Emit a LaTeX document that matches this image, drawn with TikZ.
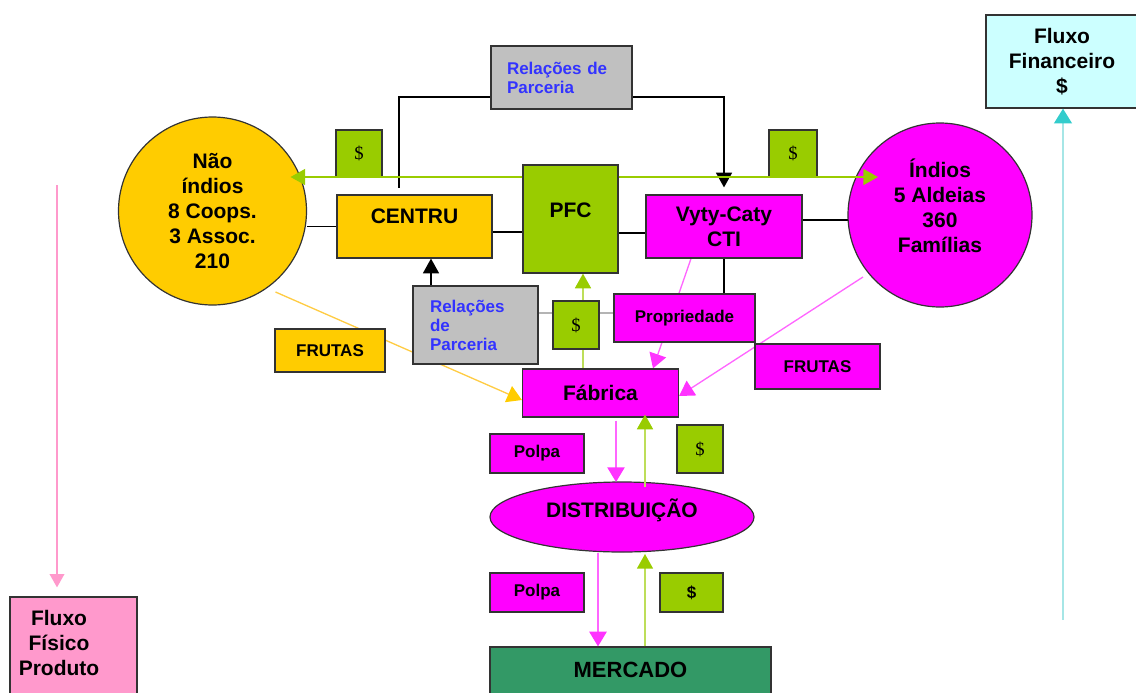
\documentclass[tikz,border=0pt]{standalone}
\usepackage{fontspec}
\setmainfont{Liberation Sans}
\newfontfamily\dolserif{Liberation Serif}
\usetikzlibrary{arrows.meta,shapes.geometric,calc}
\pgfdeclarelayer{bg}
\pgfsetlayers{bg,main}
\definecolor{cYel}{HTML}{FFCC00}
\definecolor{cGrn}{HTML}{99CC00}
\definecolor{cMag}{HTML}{FF00FF}
\definecolor{cGray}{HTML}{C0C0C0}
\definecolor{cBlue}{HTML}{3333FF}
\definecolor{cMerc}{HTML}{339966}
\definecolor{cCyanBox}{HTML}{CCFFFF}
\definecolor{cPinkBox}{HTML}{FF99CC}
\definecolor{cPinkLine}{HTML}{FF66FF}
\definecolor{cPinkTip}{HTML}{FF33FF}
\definecolor{cOrgLine}{HTML}{FFCC44}
\definecolor{cCyan}{HTML}{33CCCC}
\definecolor{cCyanLine}{HTML}{A6E6E6}
\definecolor{cGrayLine}{HTML}{B4B4B4}
\definecolor{cBorder}{HTML}{333333}
\tikzset{
  bigtxt/.style={font=\fontsize{15.75}{18.75}\selectfont\bfseries},
  smalltxt/.style={font=\fontsize{12.75}{14.25}\selectfont\bfseries},
  doltxt/.style={font=\dolserif\fontsize{14}{16}\selectfont},
  outline/.style={draw=cBorder, line width=0.9pt, inner sep=0pt},
  rbox/.style 2 args={outline, rectangle, minimum width=#1*0.75pt, minimum height=#2*0.75pt},
  cbox/.style={outline, circle, minimum size=#1*0.75pt},
  ebox/.style 2 args={outline, ellipse, minimum width=#1*0.75pt, minimum height=#2*0.75pt},
  reltxt/.style={text=cBlue, align=left},
  blk/.style={draw=black, line width=0.9pt},
  blkarrow/.style={blk, -{Triangle[length=11pt,width=12pt]}},
  garrow/.style={draw=cGrn, line width=1pt, -{Triangle[length=11pt,width=12pt]}},
  gvarrow/.style={draw=cGrn!65!white, line width=1.2pt, -{Triangle[length=11pt,width=12pt,color=cGrn]}},
  parrow/.style={draw=cPinkLine, line width=1pt, -{Triangle[length=11pt,width=13pt,color=cPinkTip]}},
  oarrow/.style={draw=cOrgLine, line width=1pt, -{Triangle[length=11pt,width=13pt,color=cYel]}},
  carrow/.style={draw=cCyanLine, line width=2pt, -{Triangle[length=11pt,width=13pt,color=cCyan]}},
  pkarrow/.style={draw=cPinkBox, line width=1pt, -{Triangle[length=10pt,width=11pt]}},
  grayline/.style={draw=cGrayLine, line width=2pt},
}
\begin{document}
\begin{tikzpicture}[x=0.75pt,y=-0.75pt]
\useasboundingbox (0,0) rectangle (1136,693);
\clip (0,0) rectangle (1136,693);

% nodes
\node[rbox={141}{63}, fill=cGray, smalltxt, reltxt, inner xsep=12pt, text width=81.75pt] (rp1) at (561.5,77.5) {Relações de\\Parceria};
\node[rbox={46}{47}, fill=cGrn, doltxt] (d1) at (359,153.5) {\$};
\node[rbox={48}{47}, fill=cGrn, doltxt] (d2) at (793,153.5) {\$};
\node[cbox={188}, fill=cYel, bigtxt, align=center] (nao) at (212.5,211) {Não\\índios\\8 Coops.\\3 Assoc.\\210};
\node[cbox={184}, fill=cMag] (ind) at (940,215) {};
\node[bigtxt, align=center] (indtxt) at (940,206) {Índios\\5 Aldeias\\360\\Famílias};
\node[rbox={155}{63}, fill=cYel, bigtxt] (centru) at (414.5,226.5) {\raisebox{2.6pt}[0pt][0pt]{CENTRU}};
\node[rbox={95}{108}, fill=cGrn, bigtxt] (pfc) at (570.5,219) {\raisebox{1.1pt}[0pt][0pt]{PFC}};
\node[rbox={156}{63}, fill=cMag, bigtxt, align=center] (vyty) at (724,226.5) {Vyty-Caty\\CTI};
\node[rbox={125}{78}, fill=cGray, smalltxt, reltxt, inner xsep=12.75pt, text width=68.25pt] (rp2) at (475.5,325) {Relações\\de\\Parceria};
\node[rbox={46}{48}, fill=cGrn, doltxt] (d3) at (576,325) {\$};
\node[rbox={141}{48}, fill=cMag, smalltxt] (prop) at (684.5,318) {Propriedade};
\node[rbox={110}{43}, fill=cYel, smalltxt] (fr1) at (330,350.5) {FRUTAS};
\node[rbox={125}{45}, fill=cMag, smalltxt] (fr2) at (817.5,366.5) {FRUTAS};
\node[rbox={156}{48}, fill=cMag, bigtxt] (fab) at (600.5,393) {Fábrica};
\node[rbox={94}{39}, fill=cMag, smalltxt] (polpa1) at (537,453.5) {Polpa};
\node[rbox={46}{48}, fill=cGrn, doltxt] (d4) at (700,449) {\$};
\node[ebox={264}{70}, fill=cMag, bigtxt] (dist) at (622,517) {\raisebox{0pt}[0pt][0pt]{DISTRIBUIÇÃO}};
\node[rbox={94}{39}, fill=cMag, smalltxt] (polpa2) at (537,592.5) {Polpa};
\node[rbox={63}{39}, fill=cGrn, smalltxt] (d5) at (691.5,592.5) {\$};
\node[rbox={281}{63}, fill=cMerc, font=\fontsize{16.5}{19}\selectfont\bfseries] (merc) at (630.5,678.5) {\raisebox{0.8pt}[0pt][0pt]{MERCADO}};
\node[rbox={152}{93}, fill=cCyanBox, bigtxt, align=center] (fin) at (1062,61.5) {Fluxo\\Financeiro\\\$};
\node[rbox={127}{113}, fill=cPinkBox] (fis) at (73.5,653.5) {};
\node[bigtxt, align=center] (fistxt) at (59,642.5) {Fluxo\\Físico\\Produto};

\coordinate (cyanstart) at (1063,620);
\coordinate (pinkstart) at (57,185);

% connectors under the boxes
\begin{pgfonlayer}{bg}
\draw[blk] ($(rp1.west)+(0,19.5)$) -| ($(centru.north)+(-15.5,-6)$);
\draw[blkarrow] ($(rp1.east)+(0,19.5)$) -| ($(vyty.north)+(0,-7)$);
\draw[blkarrow] ($(rp2.north)+(-44.5,0)$) -- ($(centru.south)+(16.5,0)$);
\draw[blk] (nao.east |- centru.west) -- (centru.west);
\draw[blk] ($(centru.east)+(0,5.5)$) -- ($(pfc.west)+(0,13)$);
\draw[blk] ($(pfc.east)+(0,14)$) -- ($(vyty.west)+(0,6.5)$);
\draw[blk] ($(vyty.east)+(0,-6.5)$) -- ($(ind.center)+(-92,5)$);
\draw[blk] (vyty.south) -- (vyty.south |- prop.north);
\draw[grayline] ($(rp2.east)+(0,-12)$) -- ($(prop.west)+(0,-5)$);
\draw[gvarrow] ($(fab.north)+(-17.5,0)$) -- ($(pfc.south)+(12.5,0)$);
\draw[oarrow] ($(nao.center)+(63,81)$) -- ($(fab.west)+(0,7)$);
\draw[parrow] ($(vyty.south)+(-33,0)$) -- ($(fab.north)+(52.5,0)$);
\draw[parrow] ($(ind.center)+(-77,62)$) -- ($(fab.east)+(0,3)$);
\end{pgfonlayer}

% connectors on top
\draw[garrow] ($(pfc.west)+(0,-42)$) -- ($(nao.center)+(78,-34)$);
\draw[garrow] ($(pfc.east)+(0,-42)$) -- ($(ind.center)+(-62,-38)$);
\draw[parrow] ($(fab.south)+(15.5,3)$) -- ($(dist.center)+(-6,-35)$);
\draw[gvarrow] ($(dist.center)+(23,-30)$) -- ($(fab.south)+(44.5,-3)$);
\draw[parrow] ($(dist.center)+(-24,36)$) -- ($(merc.north)+(-32.5,0)$);
\draw[gvarrow] ($(merc.north)+(14.5,0)$) -- ($(dist.center)+(23,37)$);
\draw[carrow] (cyanstart) -- ($(fin.south)+(1,0)$);
\draw[pkarrow] (pinkstart) -- ($(fis.north)+(-16.5,-9)$);
\end{tikzpicture}
\end{document}
